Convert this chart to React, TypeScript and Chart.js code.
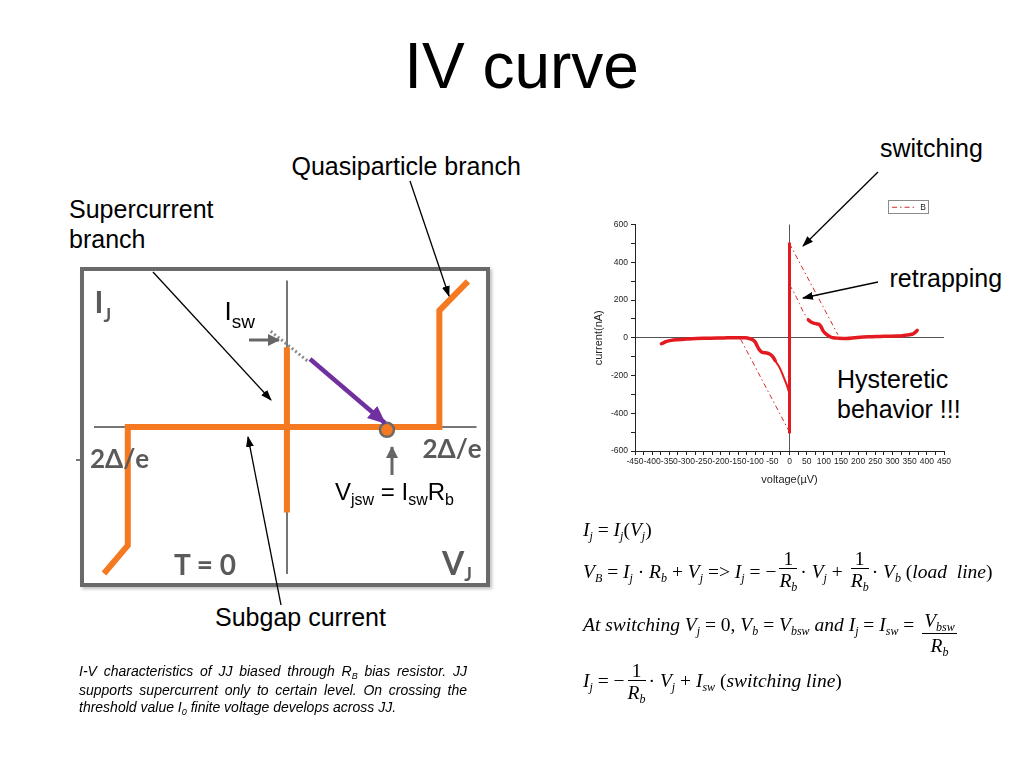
import React, { useEffect, useRef } from 'react';
import { Chart, registerables } from 'chart.js';

Chart.register(...registerables);
Chart.defaults.font.family = '"Liberation Sans", Arial, sans-serif';

// ---------- Measured IV curve (right chart), voltage in µV, current in nA ----------
const xMajorTicks = [-450, -400, -350, -300, -250, -200, -150, -100, -50, 0, 50, 100, 150, 200, 250, 300, 350, 400, 450];
const yMajorTicks = [-600, -400, -200, 0, 200, 400, 600];

// dense (thick) negative branch: quasiparticle tail + subgap bump
const branchNegV = [-373, -365, -358, -345, -329, -300, -271, -230, -190, -173, -150, -130, -115, -105, -100, -95, -90, -81, -74, -66, -58, -52, -47, -42];
const branchNegI = [-32, -25, -19, -14, -11, -7, -4, -2, -1, 0, 0, 0, -5, -13, -23, -40, -58, -76, -79, -81, -86, -94, -105, -120];
// negative retrapping dive
const diveNegV = [-42, -35, -27, -20, -13, -7, -3];
const diveNegI = [-120, -140, -165, -195, -227, -255, -280];
// supercurrent branch
const superV = [0, 0];
const superI = [-500, 499];
// dense positive branch
const branchPosV = [55, 62, 70, 78, 86, 92, 97, 104, 112, 120, 127, 140, 166, 190, 214, 240, 263, 290, 312, 330, 341, 352, 360, 366, 372];
const branchPosI = [95, 84, 77, 74, 71, 58, 39, 24, 12, 4, 0, -2, -4, 0, 4, 5, 7, 8, 9, 11, 14, 17, 21, 28, 39];
// sparse (thin, dash-dot) jumps
const swPosV = [0, 141];
const swPosI = [499, 16];
const swNegV = [0, -144];
const swNegI = [-500, -2];
const retrapPosV = [0, 10, 20, 29, 40, 55];
const retrapPosI = [281, 250, 215, 181, 137, 95];

// ---------- Schematic IV (left diagram), arbitrary units ----------
const qpV = [-192, -167, -167, 160, 160, 190];
const qpI = [-156, -126, 0, 0, 124, 155];
const scV = [0, 0];
const scI = [85, -91];
const dotV = [-17, 22];
const dotI = [102, 70];
const swPtV = [105];
const swPtI = [-3];

const pts = (xs: number[], ys: number[]) => xs.map((x, i) => ({ x, y: ys[i] }));

const RED = '#e31a1f';
const RED_THIN = '#d42a2a';
const ORANGE = '#f47920';
const SANS = '"Liberation Sans", Arial, sans-serif';
const SERIF = '"Liberation Serif", "Times New Roman", serif';
const LATO = 'Lato, "Open Sans", sans-serif';
const GRAY_TXT = '#5a5a5a';
const THIN_DASH = [5, 3, 1.5, 3];

function IVChart() {
  const ref = useRef<HTMLCanvasElement | null>(null);
  useEffect(() => {
    if (!ref.current) return;
    const thin = { showLine: true, borderColor: RED_THIN, backgroundColor: RED_THIN, borderWidth: 1, borderDash: THIN_DASH, pointRadius: 0, fill: false };
    const thick = { showLine: true, borderColor: RED, backgroundColor: RED, pointRadius: 0, fill: false, borderCapStyle: 'round', borderJoinStyle: 'round', tension: 0.25 };
    const legendBox = {
      id: 'legendBox',
      afterLayout(chart: any) {
        const lg = chart.legend;
        if (lg) { lg.top -= 3; lg.bottom -= 3; }
      },
      afterDraw(chart: any) {
        const lg = chart.legend;
        if (!lg || !lg.legendHitBoxes || !lg.legendHitBoxes.length) return;
        const hb = lg.legendHitBoxes[0];
        const c = chart.ctx;
        c.save();
        c.strokeStyle = '#8a8a8a';
        c.lineWidth = 1;
        c.setLineDash([]);
        c.strokeRect(Math.round(hb.left) - 3.5, Math.round(hb.top + hb.height / 2) - 6.5, Math.round(hb.width) + 6, 13);
        c.restore();
      },
    };
    const defaultGen = (Chart.defaults as any).plugins.legend.labels.generateLabels;
    const chart = new Chart(ref.current, {
      type: 'scatter',
      data: {
        datasets: [
          { label: 'B', data: pts(swPosV, swPosI), ...thin },
          { label: 'B2', data: pts(swNegV, swNegI), ...thin },
          { label: 'B3', data: pts(retrapPosV, retrapPosI), ...thin },
          { label: 'B4', data: pts(branchNegV, branchNegI), ...thick, borderWidth: 3.5 },
          { label: 'B5', data: pts(diveNegV, diveNegI), ...thick, borderWidth: 2 },
          { label: 'B6', data: pts(superV, superI), ...thick, tension: 0, borderWidth: 3 },
          { label: 'B7', data: pts(branchPosV, branchPosI), ...thick, borderWidth: 3.5 },
        ] as any,
      },
      options: {
        animation: false,
        responsive: false,
        maintainAspectRatio: false,
        events: [],
        layout: { padding: { left: 0, right: 56, top: 8, bottom: 0 } },
        plugins: {
          tooltip: { enabled: false },
          legend: {
            display: true,
            position: 'top',
            align: 'end',
            labels: {
              usePointStyle: true,
              pointStyle: 'line',
              pointStyleWidth: 24,
              padding: 18,
              color: '#222',
              font: { size: 8.5 },
              filter: (item: any) => item.datasetIndex === 0,
              generateLabels: (ch: any) =>
                defaultGen(ch).map((it: any) => ({ ...it, lineDash: THIN_DASH, lineWidth: 1, strokeStyle: RED_THIN, fillStyle: RED_THIN })),
            },
          },
        },
        scales: {
          x: {
            type: 'linear',
            min: -450,
            max: 450,
            afterBuildTicks: (s: any) => {
              const vals: number[] = [];
              xMajorTicks.forEach((v, i) => {
                vals.push(v);
                if (i < xMajorTicks.length - 1) vals.push((v + xMajorTicks[i + 1]) / 2);
              });
              s.ticks = vals.map((value) => ({ value }));
            },
            afterFit: (s: any) => { s.height = 39; },
            ticks: {
              autoSkip: false,
              maxRotation: 0,
              minRotation: 0,
              padding: 2,
              color: '#222',
              font: { size: 8.5 },
              callback: (v: any) => (xMajorTicks.includes(Number(v)) ? String(v) : ''),
            },
            grid: {
              color: (c: any) => (c.tick && c.tick.value === 0 ? '#555' : 'rgba(0,0,0,0)'),
              tickColor: '#222',
              tickLength: 4,
              lineWidth: 1,
            },
            border: { display: true, color: '#222', width: 1 },
            title: { display: true, text: 'voltage(µV)', color: '#222', font: { size: 11 }, padding: { top: 0, bottom: 3 } },
          },
          y: {
            type: 'linear',
            min: -600,
            max: 600,
            afterBuildTicks: (s: any) => {
              const vals: number[] = [];
              yMajorTicks.forEach((v, i) => {
                vals.push(v);
                if (i < yMajorTicks.length - 1) vals.push((v + yMajorTicks[i + 1]) / 2);
              });
              s.ticks = vals.map((value) => ({ value }));
            },
            afterFit: (s: any) => { s.width = 55; },
            ticks: {
              autoSkip: false,
              padding: 3,
              color: '#222',
              font: { size: 8.5 },
              callback: (v: any) => (yMajorTicks.includes(Number(v)) ? String(v) : ''),
            },
            grid: {
              color: (c: any) => (c.tick && c.tick.value === 0 ? '#555' : 'rgba(0,0,0,0)'),
              tickColor: '#222',
              tickLength: 4,
              lineWidth: 1,
            },
            border: { display: true, color: '#222', width: 1 },
            title: { display: true, text: 'current(nA)', color: '#222', font: { size: 11 }, padding: { top: 12, bottom: 0 } },
          },
        },
      } as any,
      plugins: [legendBox as any],
    });
    return () => chart.destroy();
  }, []);
  return (
    <canvas ref={ref} width={420} height={310} style={{ position: 'absolute', left: 580, top: 180, width: 420, height: 310 }} />
  );
}

function Schematic() {
  const ref = useRef<HTMLCanvasElement | null>(null);
  useEffect(() => {
    if (!ref.current) return;
    const axis = {
      type: 'linear',
      afterBuildTicks: (s: any) => { s.ticks = [{ value: 0 }]; },
      ticks: { display: false },
      grid: { color: '#767676', lineWidth: 2, drawTicks: false },
      border: { display: false },
    };
    const chart = new Chart(ref.current, {
      type: 'scatter',
      data: {
        datasets: [
          { data: pts(swPtV, swPtI), showLine: false, pointRadius: 7, backgroundColor: ORANGE, borderColor: '#6a6a6a', borderWidth: 2.5, clip: false },
          { data: pts(qpV, qpI), showLine: true, borderColor: ORANGE, borderWidth: 6, pointRadius: 0, borderJoinStyle: 'miter', tension: 0, clip: false },
          { data: pts(scV, scI), showLine: true, borderColor: ORANGE, borderWidth: 6, pointRadius: 0, clip: false },
          { data: pts(dotV, dotI), showLine: true, borderColor: '#8a8a8a', borderWidth: 3, borderDash: [2, 2.5], pointRadius: 0, clip: false },
        ] as any,
      },
      options: {
        animation: false,
        responsive: false,
        maintainAspectRatio: false,
        events: [],
        layout: { padding: 0 },
        plugins: { legend: { display: false }, tooltip: { enabled: false } },
        scales: {
          x: { ...axis, min: -203, max: 199 },
          y: { ...axis, min: -156, max: 156 },
        },
      } as any,
    });
    return () => chart.destroy();
  }, []);
  return (
    <div style={{ position: 'absolute', left: 80, top: 267, width: 410, height: 320, boxSizing: 'border-box', border: '4px solid #6a6a6a', boxShadow: '2px 2px 3px rgba(0,0,0,0.25)', background: '#fff' }}>
      <canvas ref={ref} width={402} height={312} style={{ display: 'block', width: 402, height: 312 }} />
    </div>
  );
}

type TP = { x: number; y: number; size: number; family?: string; asc?: number; style?: React.CSSProperties; children?: React.ReactNode };
function Txt({ x, y, size, family = SANS, asc = 0.8465, style, children }: TP) {
  return (
    <div style={{ position: 'absolute', left: x, top: y - asc * size, fontSize: size, lineHeight: `${size}px`, fontFamily: family, whiteSpace: 'pre', color: '#000', ...style }}>
      {children}
    </div>
  );
}

function Sub({ size, off, children, italic }: { size: number; off: number; children: React.ReactNode; italic?: boolean }) {
  return <span style={{ fontSize: size, position: 'relative', top: off, fontStyle: italic ? 'italic' : undefined }}>{children}</span>;
}

// formula helpers
const FS = 19.5;
const V = ({ c, s }: { c: string; s?: string }) => (
  <span style={{ fontStyle: 'italic' }}>
    {c}
    {s ? <Sub size={12} off={4} italic>{s}</Sub> : null}
  </span>
);

function Frac({ num, den, raise }: { num: React.ReactNode; den: React.ReactNode; raise: number }) {
  return (
    <span style={{ display: 'inline-flex', flexDirection: 'column', alignItems: 'center', position: 'relative', top: -raise, margin: '0 3px', whiteSpace: 'pre' }}>
      <span style={{ padding: '0 2px' }}>{num}</span>
      <span style={{ alignSelf: 'stretch', textAlign: 'center', borderTop: '1px solid #000', paddingTop: 2 }}>{den}</span>
    </span>
  );
}

function FLine({ x, y, children }: { x: number; y: number; children: React.ReactNode }) {
  return (
    <div style={{ position: 'absolute', left: x, top: y - 0.8375 * FS, display: 'flex', alignItems: 'baseline', fontFamily: SERIF, fontSize: FS, lineHeight: `${FS}px`, whiteSpace: 'pre', color: '#000' }}>
      {children}
    </div>
  );
}

function Arrows() {
  return (
    <svg width={1024} height={768} style={{ position: 'absolute', left: 0, top: 0, pointerEvents: 'none' }}>
      <defs>
        <marker id="ahb" markerUnits="userSpaceOnUse" markerWidth={11} markerHeight={8} refX={10} refY={4} orient="auto">
          <path d="M0,0 L11,4 L0,8 z" fill="#000" />
        </marker>
        <marker id="ahg" markerUnits="userSpaceOnUse" markerWidth={12} markerHeight={12} refX={11} refY={6} orient="auto">
          <path d="M0,0 L12,6 L0,12 z" fill="#666" />
        </marker>
        <marker id="ahp" markerUnits="userSpaceOnUse" markerWidth={18} markerHeight={16} refX={17} refY={8} orient="auto">
          <path d="M0,0 L18,8 L0,16 z" fill="#7030a0" />
        </marker>
      </defs>
      <g stroke="#000" strokeWidth={1.3} fill="none">
        <line x1={153} y1={272} x2={271} y2={400} markerEnd="url(#ahb)" />
        <line x1={410} y1={181} x2={449} y2={296} markerEnd="url(#ahb)" />
        <line x1={281} y1={605} x2={248} y2={437} markerEnd="url(#ahb)" />
        <line x1={878} y1={172} x2={803} y2={246} markerEnd="url(#ahb)" />
        <line x1={878} y1={282} x2={803} y2={298} markerEnd="url(#ahb)" />
      </g>
      <g stroke="#666" strokeWidth={3} fill="none">
        <line x1={249} y1={340} x2={279} y2={340} markerEnd="url(#ahg)" />
        <line x1={392} y1={475} x2={392} y2={447} markerEnd="url(#ahg)" />
      </g>
      <line x1={310} y1={359} x2={385} y2={423} stroke="#7030a0" strokeWidth={4.5} markerEnd="url(#ahp)" />
      <line x1={76} y1={460} x2={80} y2={460} stroke="#777" strokeWidth={2} />
    </svg>
  );
}

export default function App() {
  return (
    <div style={{ position: 'fixed', left: 0, top: 0, width: 1024, height: 768, background: '#fff', overflow: 'hidden' }}>
      {/* title */}
      <div style={{ position: 'absolute', left: 0, width: 1043, top: 88.3 - 0.8465 * 64, textAlign: 'center', fontFamily: SANS, fontSize: 64, lineHeight: '64px', color: '#000' }}>IV curve</div>

      {/* labels */}
      <Txt x={291.5} y={175} size={25}>Quasiparticle branch</Txt>
      <Txt x={69} y={218.3} size={25}>Supercurrent</Txt>
      <Txt x={69} y={248.3} size={25}>branch</Txt>
      <Txt x={215} y={626} size={25}>Subgap current</Txt>
      <Txt x={880} y={156.7} size={25}>switching</Txt>
      <Txt x={889.5} y={286.7} size={25}>retrapping</Txt>
      <Txt x={837} y={388.3} size={25}>Hysteretic</Txt>
      <Txt x={837} y={418.3} size={25}>behavior !!!</Txt>

      <Schematic />
      <IVChart />

      {/* schematic labels */}
      <Txt x={94.5} y={313} size={30} family={LATO} asc={0.887} style={{ fontWeight: 700, color: GRAY_TXT }}>
        I<Sub size={18} off={9}>J</Sub>
      </Txt>
      <Txt x={90} y={468.3} size={26} family={LATO} asc={0.887} style={{ fontWeight: 700, color: GRAY_TXT }}>2Δ/e</Txt>
      <Txt x={422.5} y={458.3} size={26} family={LATO} asc={0.887} style={{ fontWeight: 700, color: GRAY_TXT }}>2Δ/e</Txt>
      <Txt x={174} y={575} size={28} family={LATO} asc={0.887} style={{ fontWeight: 700, color: GRAY_TXT }}>T = 0</Txt>
      <Txt x={442} y={575} size={32} family={LATO} asc={0.887} style={{ fontWeight: 700, color: GRAY_TXT }}>
        V<Sub size={18} off={6}>J</Sub>
      </Txt>
      <Txt x={224.6} y={320} size={26}>
        I<Sub size={19} off={8}>sw</Sub>
      </Txt>
      <Txt x={335} y={500} size={24}>
        V<Sub size={16} off={5}>jsw</Sub> = I<Sub size={16} off={5}>sw</Sub>R<Sub size={16} off={5}>b</Sub>
      </Txt>

      <Arrows />

      {/* formulas */}
      <FLine x={583} y={536}>
        <span><V c="I" s="j" /> = <V c="I" s="j" />(<V c="V" s="j" />)</span>
      </FLine>
      <FLine x={583} y={578}>
        <span><V c="V" s="B" /> = <V c="I" s="j" /> · <V c="R" s="b" /> + <V c="V" s="j" /> =&gt; <V c="I" s="j" /> = −</span>
        <Frac raise={13} num="1" den={<V c="R" s="b" />} />
        <span>· <V c="V" s="j" /> + </span>
        <Frac raise={13} num="1" den={<V c="R" s="b" />} />
        <span>· <V c="V" s="b" /> (<i>load  line</i>)</span>
      </FLine>
      <FLine x={583} y={631}>
        <span><i>At switching </i><V c="V" s="j" /> = 0, <V c="V" s="b" /> = <V c="V" s="bsw" /> <i>and </i><V c="I" s="j" /> = <V c="I" s="sw" /> = </span>
        <Frac raise={4} num={<V c="V" s="bsw" />} den={<V c="R" s="b" />} />
      </FLine>
      <FLine x={583} y={687}>
        <span><V c="I" s="j" /> = −</span>
        <Frac raise={10} num="1" den={<V c="R" s="b" />} />
        <span>· <V c="V" s="j" /> + <V c="I" s="sw" /> (<i>switching line</i>)</span>
      </FLine>

      {/* caption */}
      <div style={{ position: 'absolute', left: 79, top: 662.6, width: 388, fontFamily: SANS, fontStyle: 'italic', fontSize: 14, lineHeight: '17px', color: '#000' }}>
        <div style={{ textAlign: 'justify', textAlignLast: 'justify' as any, whiteSpace: 'nowrap' }}>
          I-V characteristics of JJ biased through R<Sub size={9} off={3}>B</Sub> bias resistor. JJ
        </div>
        <div style={{ textAlign: 'justify', textAlignLast: 'justify' as any }}>
          supports supercurrent only to certain level.  On crossing the
        </div>
        <div style={{ whiteSpace: 'nowrap' }}>
          threshold value I<Sub size={9} off={3}>0</Sub> finite voltage develops across JJ.
        </div>
      </div>
    </div>
  );
}
